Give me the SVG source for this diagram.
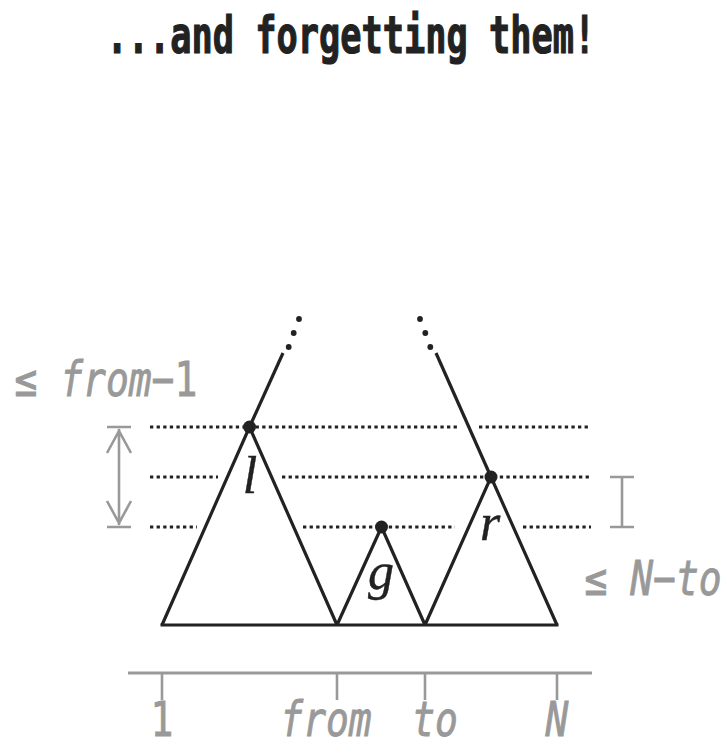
<svg xmlns="http://www.w3.org/2000/svg" width="724" height="748" viewBox="0 0 724 748">
<style>
.bg{fill:#ffffff}
.title{font-family:"DejaVu Sans Mono","Liberation Mono",monospace;font-weight:bold;font-size:51px;fill:#222222;stroke:#222222;stroke-width:1.2}
.tree{fill:none;stroke:#222222;stroke-width:3.2;stroke-linejoin:miter;stroke-linecap:butt}
.dotted{fill:none;stroke:#222222;stroke-width:3.2;stroke-dasharray:3.3 3.3}
.node{fill:#222222}
.ell{fill:#222222}
.var{font-family:"Liberation Serif","DejaVu Serif",serif;font-style:italic;font-size:52px;fill:#222222;text-anchor:middle;stroke:#222222;stroke-width:0.4}
.gray{fill:none;stroke:#999999;stroke-width:2.6}
.axis{fill:none;stroke:#999999;stroke-width:3}
.glabel{font-family:"DejaVu Sans Mono","Liberation Mono",monospace;font-size:48px;fill:#999999;stroke:#999999;stroke-width:0.9}
.it{font-style:italic}
.mid{text-anchor:middle}
</style>
<rect class="bg" x="0" y="0" width="724" height="748"/>

<g id="title">
<text class="title" transform="translate(106.6,52.5) scale(0.692,1)" x="0" y="0">...and forgetting them!</text>
</g>

<g id="levels">
<path class="dotted" d="M150,427H460M479,427H591"/>
<path class="dotted" d="M150,477H218M282,477H591"/>
<path class="dotted" d="M150,527H197M303,527H455M523,527H591"/>
</g>

<g id="connectors">
<path class="tree" d="M249.5,427L283,353"/>
<circle class="ell" cx="288.7" cy="347" r="2.9"/>
<circle class="ell" cx="293.7" cy="333" r="2.9"/>
<circle class="ell" cx="299" cy="319" r="2.9"/>
<path class="tree" d="M491,477L436,353"/>
<circle class="ell" cx="430.3" cy="347" r="2.9"/>
<circle class="ell" cx="425.3" cy="333" r="2.9"/>
<circle class="ell" cx="420" cy="319" r="2.9"/>
<path class="tree" d="M160.5,625H558.5"/>
</g>

<g id="node-l">
<path class="tree" d="M162,625L249.5,427L337,625"/>
<circle class="node" cx="249.5" cy="427" r="6.5"/>
<text class="var" x="250" y="493">l</text>
</g>

<g id="node-g">
<path class="tree" d="M337,625L381.5,527L425,625"/>
<circle class="node" cx="381.5" cy="527" r="6.5"/>
<text class="var" x="381" y="589">g</text>
</g>

<g id="node-r">
<path class="tree" d="M425,625L491,477L557,625"/>
<circle class="node" cx="491" cy="477" r="6.5"/>
<text class="var" x="490" y="540">r</text>
</g>

<g id="left-range">
<path class="gray" d="M107,427H131M107,527H131M119,429V525M107,453L119,431L131,453M107,501L119,523L131,501"/>
<text class="glabel" transform="translate(14.6,396) scale(0.79,1)" x="0" y="0">≤ <tspan class="it">from</tspan>−1</text>
</g>

<g id="right-range">
<path class="gray" d="M610,477H634M610,527H634M622,477V527"/>
<text class="glabel" transform="translate(584.6,595) scale(0.79,1)" x="0" y="0">≤ <tspan class="it">N</tspan>−<tspan class="it">to</tspan></text>
</g>

<g id="axis">
<path class="axis" d="M128,673H592"/>
<path class="gray" d="M162,673V700M337,673V700M425,673V700M557,673V700"/>
<text class="glabel mid" transform="translate(162,736) scale(0.79,1)" x="0" y="0">1</text>
<text class="glabel mid it" transform="translate(326,736) scale(0.79,1)" x="0" y="0">from</text>
<text class="glabel mid it" transform="translate(435,736) scale(0.79,1)" x="0" y="0">to</text>
<text class="glabel mid it" transform="translate(557,736) scale(0.79,1)" x="0" y="0">N</text>
</g>
</svg>
